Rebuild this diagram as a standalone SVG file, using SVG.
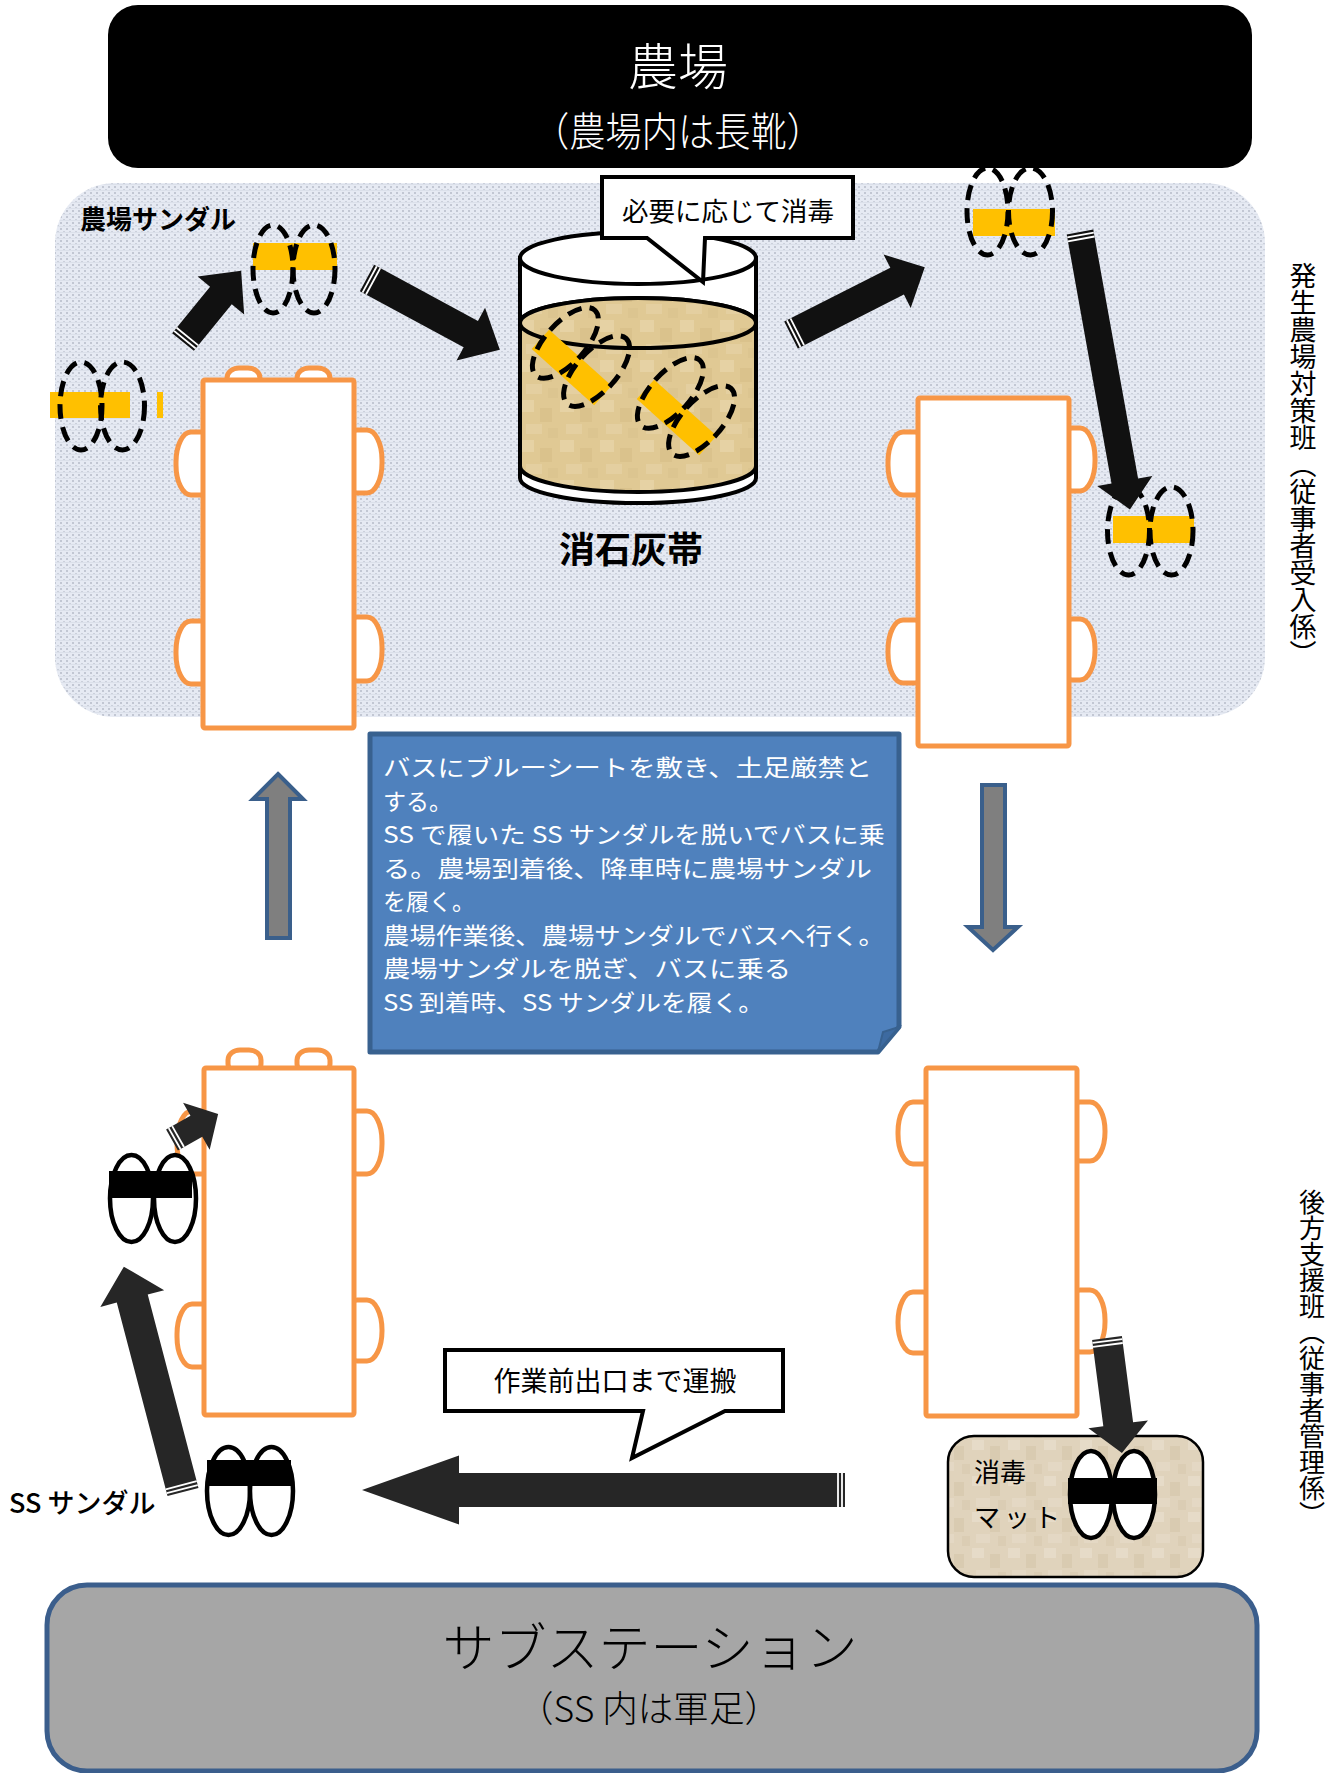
<svg xmlns="http://www.w3.org/2000/svg" width="1343" height="1773" viewBox="0 0 1343 1773">
  <defs>
    <style>
      .cjk { font-family: "Noto Sans CJK JP", "Noto Sans", sans-serif; }
      .bus { fill: #ffffff; stroke: #f79646; stroke-width: 5; stroke-linejoin: round; }
      .dash { fill: none; stroke: #000000; stroke-width: 5; stroke-dasharray: 15 8; }
      .solid { fill: #ffffff; stroke: #000000; stroke-width: 4.5; }
      .band { fill: #ffc000; }
      .bandk { fill: #000000; }
      .arrowTop { fill: #111111; }
      .arrowBot { fill: #262626; }
      .stripe { stroke: #ffffff; stroke-width: 1.8; }
      .fat { fill: #7f7f7f; stroke: #3a5f8b; stroke-width: 4; stroke-linejoin: miter; }
      .callout { fill: #ffffff; stroke: #000000; stroke-width: 4; stroke-linejoin: miter; }
      .drum { stroke: #000000; stroke-width: 4; }
    </style>
    <!-- fine mesh texture of the farm area -->
    <pattern id="mesh" width="6" height="6" patternUnits="userSpaceOnUse">
      <rect width="6" height="6" fill="#e6eaf3"/>
      <rect x="0" y="0" width="2" height="2" fill="#c2c7d3"/>
      <rect x="3" y="3" width="2" height="2" fill="#cbd0db"/>
      <rect x="0" y="4" width="6" height="1" fill="#dbe0ea"/>
    </pattern>
    <!-- slaked-lime liquid texture -->
    <pattern id="lime" width="40" height="40" patternUnits="userSpaceOnUse">
      <rect width="40" height="40" fill="#e0c994"/>
      <rect x="0" y="0" width="14" height="12" fill="#e6d2a4"/>
      <rect x="20" y="8" width="12" height="14" fill="#dac28c"/>
      <rect x="6" y="24" width="16" height="10" fill="#e4cfa0"/>
      <rect x="28" y="28" width="10" height="10" fill="#dcc590"/>
    </pattern>
    <!-- disinfection mat texture -->
    <pattern id="mat" width="36" height="36" patternUnits="userSpaceOnUse">
      <rect width="36" height="36" fill="#e0d3bc"/>
      <rect x="0" y="0" width="12" height="10" fill="#e6dbc8"/>
      <rect x="18" y="6" width="10" height="14" fill="#d9cbb1"/>
      <rect x="4" y="22" width="14" height="9" fill="#e4d8c4"/>
      <rect x="26" y="24" width="8" height="10" fill="#dbcdb4"/>
    </pattern>
  </defs>

  <rect width="1343" height="1773" fill="#ffffff"/>

  <!-- farm area -->
  <g id="farm-area">
    <rect x="55" y="183" width="1210" height="534" rx="60" ry="60" fill="url(#mesh)"/>
  </g>

  <!-- farm header -->
  <g id="farm">
    <rect x="108" y="5" width="1144" height="163" rx="30" ry="30" fill="#000000"/>
    <text class="cjk" x="678" y="85" font-size="50" font-weight="300" fill="#ffffff" text-anchor="middle">農場</text>
    <text class="cjk" x="678" y="146" font-size="40" font-weight="300" fill="#ffffff" text-anchor="middle" textLength="290" lengthAdjust="spacingAndGlyphs">（農場内は長靴）</text>
  </g>

  <!-- substation footer -->
  <g id="substation">
    <rect x="47" y="1585" width="1210" height="186" rx="40" ry="40" fill="#a6a6a6" stroke="#3b5e8c" stroke-width="5"/>
    <text class="cjk" x="650" y="1667" font-size="52" font-weight="300" fill="#000000" text-anchor="middle">サブステーション</text>
    <text class="cjk" x="649" y="1722" font-size="36" font-weight="300" fill="#000000" text-anchor="middle" textLength="262" lengthAdjust="spacingAndGlyphs">（SS 内は軍足）</text>
  </g>

  <!-- side labels -->
  <g id="team-farm">
    <text class="cjk" x="1303" y="262" font-size="27" fill="#000000" writing-mode="vertical-rl">発生農場対策班（従事者受入係）</text>
  </g>
  <g id="team-support">
    <text class="cjk" x="1312" y="1189" font-size="26" fill="#000000" writing-mode="vertical-rl">後方支援班（従事者管理係）</text>
  </g>

  <!-- bus at the farm, arriving -->
  <g id="bus-farm-in">
    <rect class="bus" x="227" y="368" width="33" height="24" rx="12" ry="10"/>
    <rect class="bus" x="297" y="368" width="33" height="24" rx="12" ry="10"/>
    <rect class="bus" x="176" y="432" width="40" height="63" rx="15" ry="30"/>
    <rect class="bus" x="176" y="621" width="40" height="63" rx="15" ry="30"/>
    <rect class="bus" x="342" y="430" width="40" height="63" rx="15" ry="30"/>
    <rect class="bus" x="342" y="617" width="40" height="64" rx="15" ry="30"/>
    <rect class="bus" x="203" y="380" width="151" height="348" rx="2"/>
  </g>

  <!-- bus at the farm, leaving -->
  <g id="bus-farm-out">
    <rect class="bus" x="888" y="432" width="42" height="63" rx="15" ry="30"/>
    <rect class="bus" x="888" y="620" width="42" height="63" rx="15" ry="30"/>
    <rect class="bus" x="1057" y="428" width="38" height="63" rx="15" ry="30"/>
    <rect class="bus" x="1057" y="619" width="38" height="61" rx="15" ry="30"/>
    <rect class="bus" x="918" y="398" width="151" height="348" rx="2"/>
  </g>

  <!-- bus at the substation, departing -->
  <g id="bus-ss-out">
    <rect class="bus" x="228" y="1050" width="33" height="24" rx="12" ry="10"/>
    <rect class="bus" x="297" y="1050" width="33" height="24" rx="12" ry="10"/>
    <rect class="bus" x="177" y="1111" width="40" height="63" rx="15" ry="30"/>
    <rect class="bus" x="177" y="1304" width="40" height="63" rx="15" ry="30"/>
    <rect class="bus" x="342" y="1111" width="40" height="63" rx="15" ry="30"/>
    <rect class="bus" x="342" y="1300" width="40" height="61" rx="15" ry="30"/>
    <rect class="bus" x="204" y="1068" width="150" height="347" rx="2"/>
  </g>

  <!-- bus at the substation, returning -->
  <g id="bus-ss-in">
    <rect class="bus" x="898" y="1102" width="40" height="62" rx="15" ry="30"/>
    <rect class="bus" x="898" y="1292" width="40" height="61" rx="15" ry="30"/>
    <rect class="bus" x="1065" y="1102" width="40" height="59" rx="15" ry="29"/>
    <rect class="bus" x="1065" y="1290" width="40" height="62" rx="15" ry="30"/>
    <rect class="bus" x="926" y="1068" width="151" height="348" rx="2"/>
  </g>

  <!-- slaked lime bath -->
  <g id="lime-bath">
    <path class="drum" fill="#ffffff" d="M520,258 V478 A118,25 0 0 0 756,478 V258 Z"/>
    <ellipse class="drum" fill="#ffffff" cx="638" cy="258" rx="118" ry="26"/>
    <path class="drum" fill="url(#lime)" d="M520,323 V466 A118,26 0 0 0 756,466 V323 A118,25 0 0 0 520,323 Z"/>
    <ellipse class="drum" fill="url(#lime)" cx="638" cy="323" rx="118" ry="25"/>
    <g transform="translate(581,357) rotate(222)">
      <rect class="band" x="-42" y="-27" width="84" height="26"/>
      <ellipse class="dash" cx="-21" cy="0" rx="20" ry="44"/>
      <ellipse class="dash" cx="21" cy="0" rx="20" ry="44"/>
    </g>
    <g transform="translate(686,407) rotate(222)">
      <rect class="band" x="-42" y="-27" width="84" height="26"/>
      <ellipse class="dash" cx="-21" cy="0" rx="20" ry="44"/>
      <ellipse class="dash" cx="21" cy="0" rx="20" ry="44"/>
    </g>
    <text class="cjk" x="631" y="563" font-size="36" font-weight="bold" fill="#000000" text-anchor="middle">消石灰帯</text>
  </g>

  <!-- callout: disinfect as needed -->
  <g id="note-disinfect">
    <path class="callout" d="M602,177 H853 V238 H705 L703,282 L647,238 H602 Z"/>
    <text class="cjk" x="728" y="221" font-size="26.5" fill="#000000" text-anchor="middle">必要に応じて消毒</text>
  </g>

  <!-- farm sandals -->
  <g id="farm-sandal-label">
    <text class="cjk" x="80" y="229" font-size="26" font-weight="bold" fill="#000000">農場サンダル</text>
  </g>
  <g id="farm-sandal-a">
    <rect class="band" x="253" y="243" width="84" height="27"/>
    <ellipse class="dash" cx="273" cy="269" rx="20" ry="44"/>
    <ellipse class="dash" cx="314" cy="269" rx="21" ry="44"/>
  </g>
  <g id="farm-sandal-b">
    <rect class="band" x="50" y="392" width="80" height="26"/>
    <rect class="band" x="157" y="392" width="6" height="26"/>
    <ellipse class="dash" cx="81" cy="406" rx="21" ry="44"/>
    <ellipse class="dash" cx="122.5" cy="406" rx="22" ry="44"/>
  </g>
  <g id="farm-sandal-c">
    <rect class="band" x="973" y="209" width="82" height="27"/>
    <ellipse class="dash" cx="987.5" cy="211.5" rx="20.5" ry="43.5"/>
    <ellipse class="dash" cx="1030.5" cy="211.5" rx="22" ry="43.5"/>
  </g>
  <g id="farm-sandal-d">
    <rect class="band" x="1113" y="516" width="81" height="27"/>
    <ellipse class="dash" cx="1128.5" cy="531" rx="21" ry="44"/>
    <ellipse class="dash" cx="1171.5" cy="531" rx="21.5" ry="44"/>
  </g>

  <!-- SS sandals -->
  <g id="ss-sandal-bus">
    <ellipse class="solid" cx="131.5" cy="1198.5" rx="21.5" ry="43.5"/>
    <ellipse class="solid" cx="175" cy="1198.5" rx="21" ry="43.5"/>
    <rect class="bandk" x="109" y="1171" width="83" height="27"/>
  </g>
  <g id="ss-sandal-exit">
    <ellipse class="solid" cx="228.5" cy="1491" rx="21.5" ry="44"/>
    <ellipse class="solid" cx="271.5" cy="1491" rx="21.5" ry="44"/>
    <rect class="bandk" x="207" y="1460" width="84" height="26"/>
    <text class="cjk" x="9" y="1513" font-size="27" font-weight="500" fill="#000000">SS サンダル</text>
  </g>

  <!-- disinfection mat -->
  <g id="mat">
    <rect x="948" y="1436" width="255" height="141" rx="26" ry="26" fill="url(#mat)" stroke="#000000" stroke-width="2.5"/>
    <text class="cjk" x="974" y="1482" font-size="26" fill="#000000">消毒</text>
    <text class="cjk" x="974" y="1527" font-size="26" fill="#000000" letter-spacing="4">マット</text>
    <ellipse class="solid" cx="1091" cy="1494.5" rx="21" ry="43.5"/>
    <ellipse class="solid" cx="1134" cy="1494.5" rx="21" ry="43.5"/>
    <rect class="bandk" x="1068" y="1478" width="89" height="26"/>
  </g>

  <!-- instructions note -->
  <g id="note-bus">
    <path d="M370,734 H899 V1027 L878,1052 H370 Z" fill="#4f81bd" stroke="#38618f" stroke-width="5" stroke-linejoin="round"/>
    <path d="M878,1052 L883,1032 L899,1027 Z" fill="#3d6aa0" stroke="#38618f" stroke-width="2"/>
    <g class="cjk" font-size="23" fill="#ffffff">
      <text x="383" y="776" textLength="489" lengthAdjust="spacingAndGlyphs">バスにブルーシートを敷き、土足厳禁と</text>
      <text x="383" y="809.5" textLength="69" lengthAdjust="spacingAndGlyphs">する。</text>
      <text x="383" y="843" textLength="502" lengthAdjust="spacingAndGlyphs">SS で履いた SS サンダルを脱いでバスに乗</text>
      <text x="383" y="876.5" textLength="489" lengthAdjust="spacingAndGlyphs">る。農場到着後、降車時に農場サンダル</text>
      <text x="383" y="910" textLength="92" lengthAdjust="spacingAndGlyphs">を履く。</text>
      <text x="383" y="943.5" textLength="502" lengthAdjust="spacingAndGlyphs">農場作業後、農場サンダルでバスへ行く。</text>
      <text x="383" y="977" textLength="408" lengthAdjust="spacingAndGlyphs">農場サンダルを脱ぎ、バスに乗る</text>
      <text x="383" y="1010.5" textLength="381" lengthAdjust="spacingAndGlyphs">SS 到着時、SS サンダルを履く。</text>
    </g>
  </g>

  <!-- callout: carried to the exit before work -->
  <g id="note-carry">
    <path class="callout" d="M445,1350 H783 V1411 H725 L632,1458 L643,1411 H445 Z"/>
    <text class="cjk" x="615" y="1391" font-size="27" fill="#000000" text-anchor="middle">作業前出口まで運搬</text>
  </g>

  <!-- connectors -->
  <g id="connectors">
    <!-- farm: step off bus onto farm sandals -->
    <g transform="translate(183,342) rotate(-50.8)">
      <polygon class="arrowTop" points="0,-14 60,-14 60,-30 92,0 60,30 60,14 0,14"/>
      <line class="stripe" x1="3" y1="-14" x2="3" y2="14"/>
      <line class="stripe" x1="7" y1="-14" x2="7" y2="14"/>
    </g>
    <!-- farm sandals into the lime bath -->
    <g transform="translate(367,278) rotate(28.4)">
      <polygon class="arrowTop" points="0,-15 118,-15 118,-30 151,0 118,30 118,15 0,15"/>
      <line class="stripe" x1="3" y1="-15" x2="3" y2="15"/>
      <line class="stripe" x1="7" y1="-15" x2="7" y2="15"/>
    </g>
    <!-- out of the lime bath -->
    <g transform="translate(791,335) rotate(-26.9)">
      <polygon class="arrowTop" points="0,-15 119,-15 119,-30 150,0 119,30 119,15 0,15"/>
      <line class="stripe" x1="3" y1="-15" x2="3" y2="15"/>
      <line class="stripe" x1="7" y1="-15" x2="7" y2="15"/>
    </g>
    <!-- down to the leaving bus -->
    <g transform="translate(1080,232) rotate(79.8)">
      <polygon class="arrowTop" points="0,-13.5 253,-13.5 253,-28 282,0 253,28 253,13.5 0,13.5"/>
      <line class="stripe" x1="3" y1="-13.5" x2="3" y2="13.5"/>
      <line class="stripe" x1="7" y1="-13.5" x2="7" y2="13.5"/>
    </g>
    <!-- SS: board the bus -->
    <g transform="translate(172,1140) rotate(-29.5)">
      <polygon class="arrowBot" points="0,-12 28,-12 28,-27 53,0 28,27 28,12 0,12"/>
      <line class="stripe" x1="3" y1="-12" x2="3" y2="12"/>
      <line class="stripe" x1="7" y1="-12" x2="7" y2="12"/>
    </g>
    <!-- SS: sandals from the exit to the bus -->
    <g transform="translate(183,1492) rotate(-104.7)">
      <polygon class="arrowBot" points="0,-16 200,-16 200,-33 233,0 200,33 200,16 0,16"/>
      <line class="stripe" x1="3" y1="-16" x2="3" y2="16"/>
      <line class="stripe" x1="7" y1="-16" x2="7" y2="16"/>
    </g>
    <!-- SS: sandals carried back to the exit -->
    <g transform="translate(845,1490) rotate(180)">
      <polygon class="arrowBot" points="0,-17 386,-17 386,-34.5 483,0 386,34.5 386,17 0,17"/>
      <line class="stripe" x1="3" y1="-17" x2="3" y2="17"/>
      <line class="stripe" x1="7" y1="-17" x2="7" y2="17"/>
    </g>
    <!-- SS: off the bus onto the mat -->
    <g transform="translate(1107,1338) rotate(82.6)">
      <polygon class="arrowBot" points="0,-15 87,-15 87,-30 116,0 87,30 87,15 0,15"/>
      <line class="stripe" x1="3" y1="-15" x2="3" y2="15"/>
      <line class="stripe" x1="7" y1="-15" x2="7" y2="15"/>
    </g>
    <!-- bus travel SS to farm -->
    <polygon class="fat" points="278,774 303,799 290,799 290,938 267,938 267,799 253,799"/>
    <!-- bus travel farm to SS -->
    <polygon class="fat" points="982,785 1005,785 1005,927 1018,927 993,950 968,927 982,927"/>
  </g>
</svg>
